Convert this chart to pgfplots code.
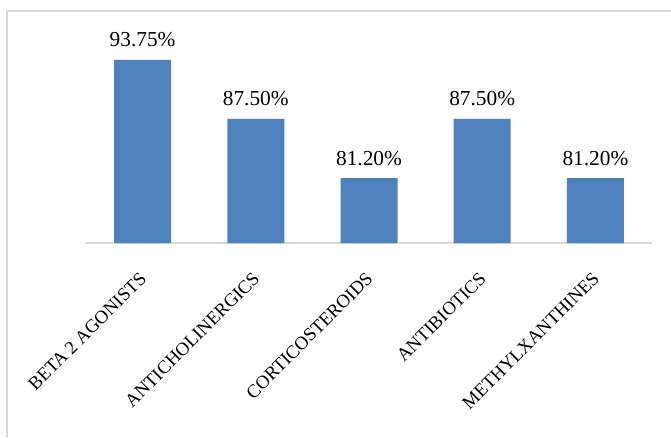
\documentclass[border=0pt]{standalone}
\usepackage{fontspec}
\setmainfont{Liberation Serif}
\usepackage{pgfplots}
\pgfplotsset{compat=1.18}
\definecolor{barblue}{HTML}{4F81BD}
\definecolor{framegray}{HTML}{D9D9D9}
\begin{document}
\begin{tikzpicture}
\useasboundingbox (0,0) rectangle (503.25pt,327.75pt);
\draw[framegray, line width=1.5pt] (5.25pt,0) -- (5.25pt,319.5pt) -- (503.25pt,319.5pt);
\begin{axis}[
  at={(64.5pt,145.5pt)}, anchor=south west,
  scale only axis, width=424.5pt, height=167.25pt,
  xmin=-0.5, xmax=4.5, ymin=74.3, ymax=98,
  axis x line=bottom, axis y line=none,
  x axis line style={-, framegray, line width=1.5pt},
  xtick=data, xtick style={draw=none},
  xticklabels={BETA 2 AGONISTS,ANTICHOLINERGICS,CORTICOSTEROIDS,ANTIBIOTICS,METHYLXANTHINES},
  xticklabel style={font=\fontsize{14}{16}\selectfont, xshift=0.5pt, yshift=-20pt, rotate=45, anchor=east, inner sep=0pt},
  ybar, bar width=42.75pt,
  point meta=explicit symbolic,
  nodes near coords={\pgfplotspointmeta},
  every node near coord/.append style={font=\fontsize{16}{18}\selectfont, anchor=base, inner sep=0pt, yshift=9.75pt, text=black},
  clip=false,
]
\addplot[fill=barblue, draw=none] coordinates {
  (0,93.75) [93.75\%]
  (1,87.50) [87.50\%]
  (2,81.20) [81.20\%]
  (3,87.50) [87.50\%]
  (4,81.20) [81.20\%]
};
\end{axis}
\end{tikzpicture}
\end{document}
